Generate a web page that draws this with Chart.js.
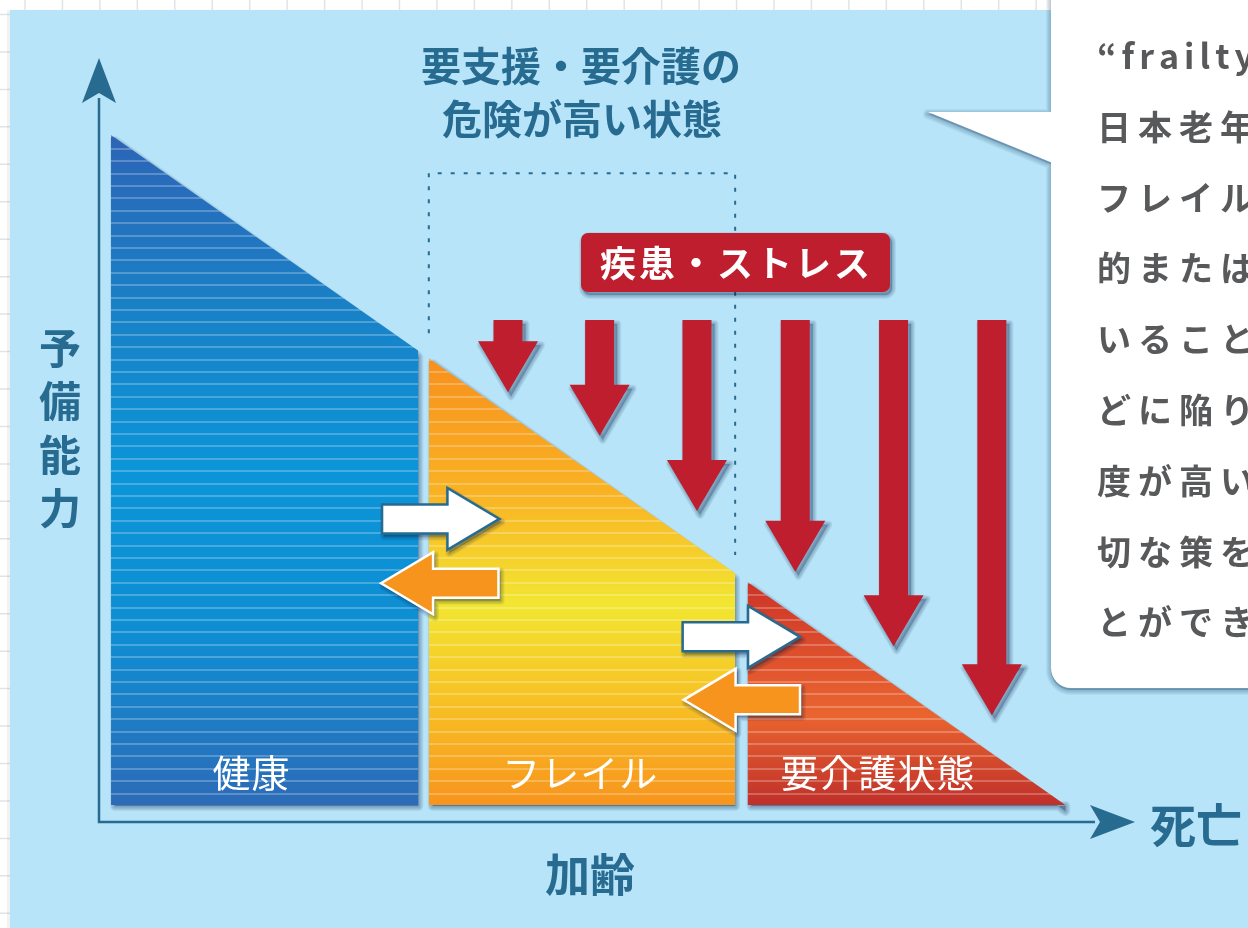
<!DOCTYPE html>
<html lang="ja">
<head>
<meta charset="utf-8">
<title>フレイル</title>
<script src="https://cdn.jsdelivr.net/npm/chart.js@4.4.1/dist/chart.umd.min.js"></script>
<style>
  html, body { margin: 0; padding: 0; background: #fff; }
  #wrap { width: 1248px; height: 928px; }
</style>
</head>
<body>
<div id="wrap"><canvas id="frailChart" width="1248" height="928"></canvas></div>
<script>
// --- data (x: 加齢, y: 予備能力) ---
const stageNames = ['健康', 'フレイル', '要介護状態']
const stageStartX = [0, 33.3, 66.7]
const stageEndX = [32.2, 65.4, 100]
const stageStartY = [100, 66.7, 33.3]
const stageEndY = [67.8, 34.6, 0]

// 疾患・ストレス arrows
const stressX = [41.6, 51.2, 61.4, 71.7, 82.0, 92.3]
const stressTopY = [72.4, 72.4, 72.4, 72.4, 72.4, 72.4]
const stressTipY = [61.6, 55.1, 43.9, 34.8, 23.7, 13.4]

// transitions between stages (white = worse, orange = back)
const moveFromX = [28.4, 40.6, 59.9, 72.2]
const moveToX = [40.7, 28.3, 72.2, 60.0]
const moveY = [42.7, 33.1, 25.1, 15.7]

// 要支援・要介護の危険が高い状態 (dotted frame)
const riskX = [33.3, 65.4]
const riskTopY = 94.3
const riskBottomY = [70.4, 37.3]

const calloutLines = ['“frailty”', '日本老年医学会', 'フレイルとは', '的または社会', 'いることなど', 'どに陥りやすい', '度が高い状態', '切な策を講じ', 'とができる']

// --- styles ---
const stageGradients = [
    [[0, '#2d64b6'], [0.25, '#1a80c6'], [0.5, '#0b95d8'], [0.75, '#0f8dd2'], [1, '#2c6bb7']],
    [[0, '#f7901d'], [0.3, '#f9b224'], [0.55, '#f2e631'], [0.8, '#f7bb23'], [1, '#f7941d']],
    [[0, '#cc3328'], [0.45, '#e45a2e'], [0.6, '#e9642f'], [1, '#bf302a']]
]
const labelOffset = [140, 151, 130]
const navy = '#286b91'
const red = '#be1e2d'
const cjk = '"Noto Sans CJK JP", "Noto Sans", sans-serif'

const patternCache = {}
const stripeFill = (chart, i) => {
    if (!chart.chartArea) return 'transparent'
    if (patternCache[i]) return patternCache[i]
    const y = chart.scales.y
    const top = y.getPixelForValue(stageStartY[i])
    const bottom = y.getPixelForValue(0)
    const off = document.createElement('canvas')
    off.width = 4
    off.height = chart.height
    const g = off.getContext('2d')
    const grad = g.createLinearGradient(0, top, 0, bottom)
    stageGradients[i].forEach(([s, c]) => grad.addColorStop(s, c))
    g.fillStyle = grad
    g.fillRect(0, 0, 4, chart.height)
    g.fillStyle = 'rgba(255,255,255,0.24)'
    for (let yy = bottom - 12.4; yy > 0; yy -= 12.4) g.fillRect(0, Math.round(yy), 4, 2)
    patternCache[i] = chart.ctx.createPattern(off, 'repeat')
    return patternCache[i]
}

const datasets = stageNames.map((name, i) => ({
    label: name,
    data: [{ x: stageStartX[i], y: stageStartY[i] }, { x: stageEndX[i], y: stageEndY[i] }],
    fill: 'origin',
    backgroundColor: (c) => stripeFill(c.chart, i),
    borderColor: 'rgba(0,0,0,0)',
    borderWidth: 0,
    pointRadius: 0,
    tension: 0
}))

// helpers
// layered soft shadow: path is drawn several times, offset and widened
const softShadow = (ctx, path, dx, dy, n, alpha) => {
    ctx.save()
    ctx.translate(dx, dy)
    ctx.fillStyle = ctx.strokeStyle = `rgba(0,35,70,${alpha})`
    ctx.lineJoin = 'round'
    for (let k = n; k >= 1; k--) {
        ctx.lineWidth = k * 2
        path()
        ctx.fill()
        ctx.stroke()
    }
    ctx.restore()
}

const spacedText = (ctx, text, x, y, spacing, align) => {
    const chars = [...text]
    const widths = chars.map(ch => ctx.measureText(ch).width)
    const total = widths.reduce((a, b) => a + b, 0) + spacing * (chars.length - 1)
    let cx = align === 'center' ? x - total / 2 : x
    ctx.textAlign = 'left'
    chars.forEach((ch, k) => {
        ctx.fillText(ch, cx, y)
        cx += widths[k] + spacing
    })
}

const downArrowPath = (ctx, cx, top, tip) => () => {
    const sw = 14.5, hw = 30, hl = 51
    ctx.beginPath()
    ctx.moveTo(cx - sw, top)
    ctx.lineTo(cx + sw, top)
    ctx.lineTo(cx + sw, tip - hl)
    ctx.lineTo(cx + hw, tip - hl)
    ctx.lineTo(cx, tip)
    ctx.lineTo(cx - hw, tip - hl)
    ctx.lineTo(cx - sw, tip - hl)
    ctx.closePath()
}

const sideArrowPath = (ctx, fromX, toX, cy) => () => {
    const d = Math.sign(toX - fromX), sw = 14.5, hw = 31, hl = 52
    const bx = toX - d * hl
    ctx.beginPath()
    ctx.moveTo(fromX, cy - sw)
    ctx.lineTo(bx, cy - sw)
    ctx.lineTo(bx, cy - hw)
    ctx.lineTo(toX, cy)
    ctx.lineTo(bx, cy + hw)
    ctx.lineTo(bx, cy + sw)
    ctx.lineTo(fromX, cy + sw)
    ctx.closePath()
}

// page grid + light blue panel, shadows, arrows and texts
const backdrop = {
    id: 'backdrop',
    beforeDraw(chart) {
        const { ctx, width, height } = chart
        ctx.save()
        ctx.fillStyle = '#ffffff'
        ctx.fillRect(0, 0, width, height)
        ctx.strokeStyle = '#dde5ec'
        ctx.lineWidth = 1.5
        for (let x = 25; x < width; x += 37.45) {
            ctx.beginPath(); ctx.moveTo(x, 0); ctx.lineTo(x, height); ctx.stroke()
        }
        for (let y = 14.5; y < height; y += 37.45) {
            ctx.beginPath(); ctx.moveTo(0, y); ctx.lineTo(width, y); ctx.stroke()
        }
        ctx.fillStyle = 'rgba(0,0,0,0.05)'
        ctx.fillRect(7, 10, 3, height)
        ctx.fillStyle = '#b7e4f8'
        ctx.fillRect(10, 10, width, height)
        ctx.restore()
    },
    beforeDatasetsDraw(chart) {
        // drop shadow under each stage, the fill covers the shape itself
        const { ctx } = chart
        const base = chart.scales.y.getPixelForValue(0)
        chart.data.datasets.forEach((ds, i) => {
            const pts = chart.getDatasetMeta(i).data
            softShadow(ctx, () => {
                ctx.beginPath()
                ctx.moveTo(pts[0].x + 2, base - 2)
                pts.forEach((p, k) => ctx.lineTo(p.x + (k ? -2 : 2), p.y + 3))
                ctx.lineTo(pts[pts.length - 1].x - 2, base - 2)
                ctx.closePath()
            }, 2, 3, 5, 0.07)
        })
    },
    afterDatasetsDraw(chart) {
        const { ctx } = chart
        const xs = chart.scales.x, ys = chart.scales.y
        const px = v => xs.getPixelForValue(v)
        const py = v => ys.getPixelForValue(v)

        // axes with arrow heads
        const ox = px(xs.min), oy = py(ys.min)
        ctx.save()
        ctx.strokeStyle = navy
        ctx.fillStyle = navy
        ctx.lineWidth = 2.5
        ctx.beginPath()
        ctx.moveTo(ox, py(ys.max) + 40)
        ctx.lineTo(ox, oy)
        ctx.lineTo(px(xs.max) - 40, oy)
        ctx.stroke()
        const yt = py(ys.max)
        ctx.beginPath()
        ctx.moveTo(ox, yt); ctx.lineTo(ox + 17, yt + 45); ctx.lineTo(ox, yt + 35); ctx.lineTo(ox - 17, yt + 45)
        ctx.closePath(); ctx.fill()
        const xt = px(xs.max)
        ctx.beginPath()
        ctx.moveTo(xt, oy); ctx.lineTo(xt - 45, oy - 17); ctx.lineTo(xt - 35, oy); ctx.lineTo(xt - 45, oy + 17)
        ctx.closePath(); ctx.fill()

        // dotted frame
        ctx.setLineDash([4, 9])
        ctx.lineWidth = 2
        ctx.beginPath()
        ctx.moveTo(px(riskX[0]), py(riskBottomY[0]))
        ctx.lineTo(px(riskX[0]), py(riskTopY))
        ctx.lineTo(px(riskX[1]), py(riskTopY))
        ctx.lineTo(px(riskX[1]), py(riskBottomY[1]))
        ctx.stroke()
        ctx.setLineDash([])

        // stage labels
        ctx.fillStyle = '#ffffff'
        ctx.font = `38px ${cjk}`
        ctx.textBaseline = 'middle'
        stageNames.forEach((name, i) => {
            spacedText(ctx, name, px(stageStartX[i]) + labelOffset[i], py(4.9), 1, 'center')
        })

        // stress arrows
        stressX.forEach((x, i) => {
            const path = downArrowPath(ctx, px(x), py(stressTopY[i]), py(stressTipY[i]))
            softShadow(ctx, path, 3, 4, 4, 0.07)
            ctx.fillStyle = red
            path()
            ctx.fill()
        })

        // 疾患・ストレス box
        const box = () => { ctx.beginPath(); ctx.roundRect(581, 233, 309, 59, 7) }
        softShadow(ctx, box, 2, 3, 4, 0.07)
        ctx.fillStyle = red
        box()
        ctx.fill()
        ctx.fillStyle = '#ffffff'
        ctx.font = `bold 36px ${cjk}`
        spacedText(ctx, '疾患・ストレス', 735, 263, 3, 'center')

        // transition arrows
        moveFromX.forEach((fx, i) => {
            const back = moveToX[i] < fx
            const path = sideArrowPath(ctx, px(fx), px(moveToX[i]), py(moveY[i]))
            softShadow(ctx, path, 2, 3, 4, 0.07)
            path()
            ctx.fillStyle = back ? '#f7941d' : '#ffffff'
            ctx.fill()
            ctx.lineWidth = 2.5
            ctx.lineJoin = 'miter'
            ctx.strokeStyle = back ? '#ffffff' : navy
            ctx.stroke()
        })

        // titles and axis labels
        ctx.fillStyle = navy
        ctx.font = `bold 40px ${cjk}`
        spacedText(ctx, '要支援・要介護の', 581, 66, 0, 'center')
        spacedText(ctx, '危険が高い状態', 582, 119, 0, 'center')
        ctx.font = `bold 42px ${cjk}`
        ;['予', '備', '能', '力'].forEach((ch, k) => spacedText(ctx, ch, 60, 348 + k * 53.5, 0, 'center'))
        ctx.font = `bold 45px ${cjk}`
        spacedText(ctx, '加齢', 590, 875, 0, 'center')
        ctx.font = `bold 46px ${cjk}`
        spacedText(ctx, '死亡', 1150, 825, 0, 'left')

        // callout
        const callout = () => {
            ctx.beginPath()
            ctx.roundRect(1051, -40, 260, 728, 20)
            ctx.moveTo(928, 112)
            ctx.lineTo(1060, 112)
            ctx.lineTo(1060, 166)
            ctx.closePath()
        }
        softShadow(ctx, callout, 0, 2, 5, 0.05)
        ctx.fillStyle = '#ffffff'
        callout()
        ctx.fill()
        ctx.fillStyle = '#58595b'
        ctx.font = `bold 34px ${cjk}`
        calloutLines.forEach((line, k) => spacedText(ctx, line, 1097, 56 + k * 70.8, k ? 7 : 5, 'left'))
        ctx.restore()
    }
}

new Chart(document.getElementById('frailChart'), {
    type: 'line',
    data: { datasets },
    options: {
        responsive: false,
        animation: false,
        devicePixelRatio: 1,
        layout: { padding: { left: 99, right: 113, top: 58, bottom: 106 } },
        scales: {
            x: { type: 'linear', min: -1.26, max: 107.3, display: false },
            y: { type: 'linear', min: -2.54, max: 111.5, display: false }
        },
        plugins: { legend: { display: false }, tooltip: { enabled: false } }
    },
    plugins: [backdrop]
})
</script>
</body>
</html>
